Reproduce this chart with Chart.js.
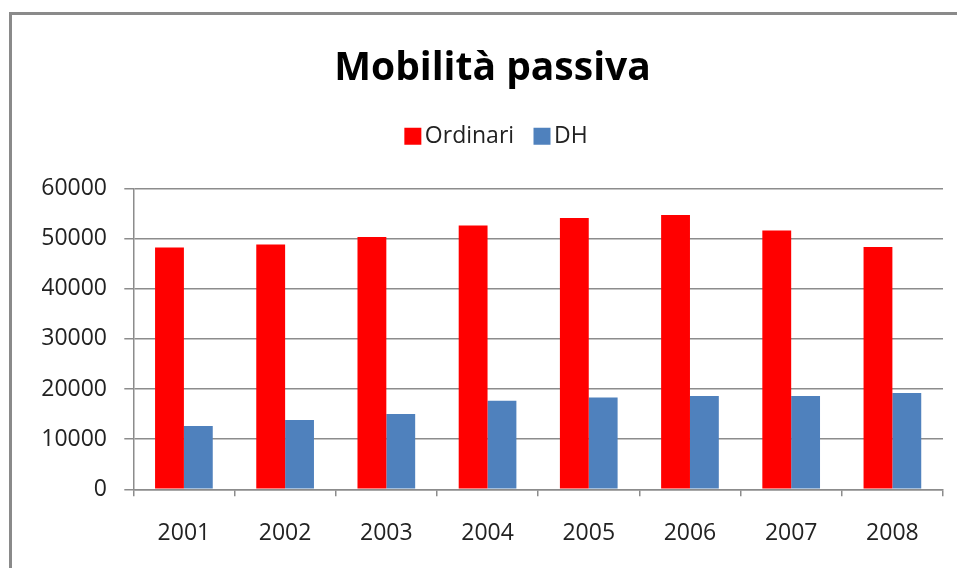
<!DOCTYPE html>
<html>
<head>
<meta charset="utf-8">
<script src="https://cdn.jsdelivr.net/npm/chart.js@4"></script>
<style>
  html, body { margin: 0; padding: 0; background: #fff; overflow: hidden; }
  #wrap { position: relative; width: 957px; height: 568px; }
  #frame {
    position: absolute; left: 9px; top: 12px; width: 1000px; height: 700px;
    border-left: 3px solid #8a8a8a; border-top: 3px solid #8a8a8a;
  }
  #chart { position: absolute; left: 0; top: 0; }
</style>
</head>
<body>
<div id="wrap">
  <div id="frame"></div>
  <canvas id="chart" width="957" height="568"></canvas>
</div>
<script>
// Data
const years = ['2001', '2002', '2003', '2004', '2005', '2006', '2007', '2008'];
const ordinari = [48200, 48800, 50300, 52600, 54100, 54700, 51600, 48300];
const dh = [12600, 13800, 15000, 17650, 18300, 18600, 18600, 19200];
const yTicks = [0, 10000, 20000, 30000, 40000, 50000, 60000];

const gridColor = '#8c8c8c';
const textColor = '#222';
const ctx = document.getElementById('chart').getContext('2d');

// push the plot area down below the legend, and nudge the legend right a bit
const legendGap = {
    id: 'legendGap',
    beforeInit(chart) {
        const fit = chart.legend.fit;
        chart.legend.fit = function () {
            fit.call(this);
            this.height += 30.6;
        };
    },
    afterLayout(chart) {
        chart.legend.left += 7.5;
        chart.legend.right += 7.5;
    }
};

const chart = new Chart(ctx, {
    type: 'bar',
    data: {
        labels: years,
        datasets: [
            { label: 'Ordinari', data: ordinari, backgroundColor: '#ff0000', borderWidth: 0 },
            { label: 'DH', data: dh, backgroundColor: '#4f81bd', borderWidth: 0 }
        ]
    },
    options: {
        responsive: false,
        animation: false,
        datasets: { bar: { categoryPercentage: 0.57, barPercentage: 1.0 } },
        layout: { padding: { left: 42, right: 14, top: 0, bottom: 0 } },
        plugins: {
            tooltip: { enabled: false },
            title: {
                display: true,
                text: 'Mobilità passiva',
                color: '#000',
                font: { family: 'Open Sans', size: 39, weight: 'bold', lineHeight: 1.2 },
                padding: { top: 45.1, bottom: 5.4 }
            },
            legend: {
                display: true,
                position: 'top',
                labels: {
                    // tiny box width + rect point style keeps the text close to the square
                    usePointStyle: true,
                    pointStyle: 'rect',
                    boxWidth: 1,
                    boxHeight: 17,
                    padding: 27.4,
                    color: textColor,
                    font: { family: 'Open Sans', size: 23 }
                }
            }
        },
        scales: {
            x: {
                afterFit(scale) { scale.height = 568 - 489.3; },
                grid: {
                    offset: true,
                    drawOnChartArea: false,
                    color: gridColor,
                    lineWidth: 1.5,
                    tickLength: 7
                },
                border: { color: gridColor, width: 1.5 },
                ticks: {
                    color: textColor,
                    padding: 23,
                    font: { family: 'Open Sans', size: 23, lineHeight: 1.2 }
                }
            },
            y: {
                min: yTicks[0],
                max: yTicks[yTicks.length - 1],
                afterFit(scale) { scale.width = 133.3 - 42; },
                afterBuildTicks(scale) { scale.ticks = yTicks.map(v => ({ value: v })); },
                grid: { color: gridColor, lineWidth: 1.5, tickLength: 9 },
                border: { color: gridColor, width: 1.5 },
                ticks: {
                    color: textColor,
                    padding: 17.3,
                    font: { family: 'Open Sans', size: 23, lineHeight: 1.2 },
                    callback: v => String(v)
                }
            }
        }
    },
    plugins: [legendGap]
});
</script>
</body>
</html>
